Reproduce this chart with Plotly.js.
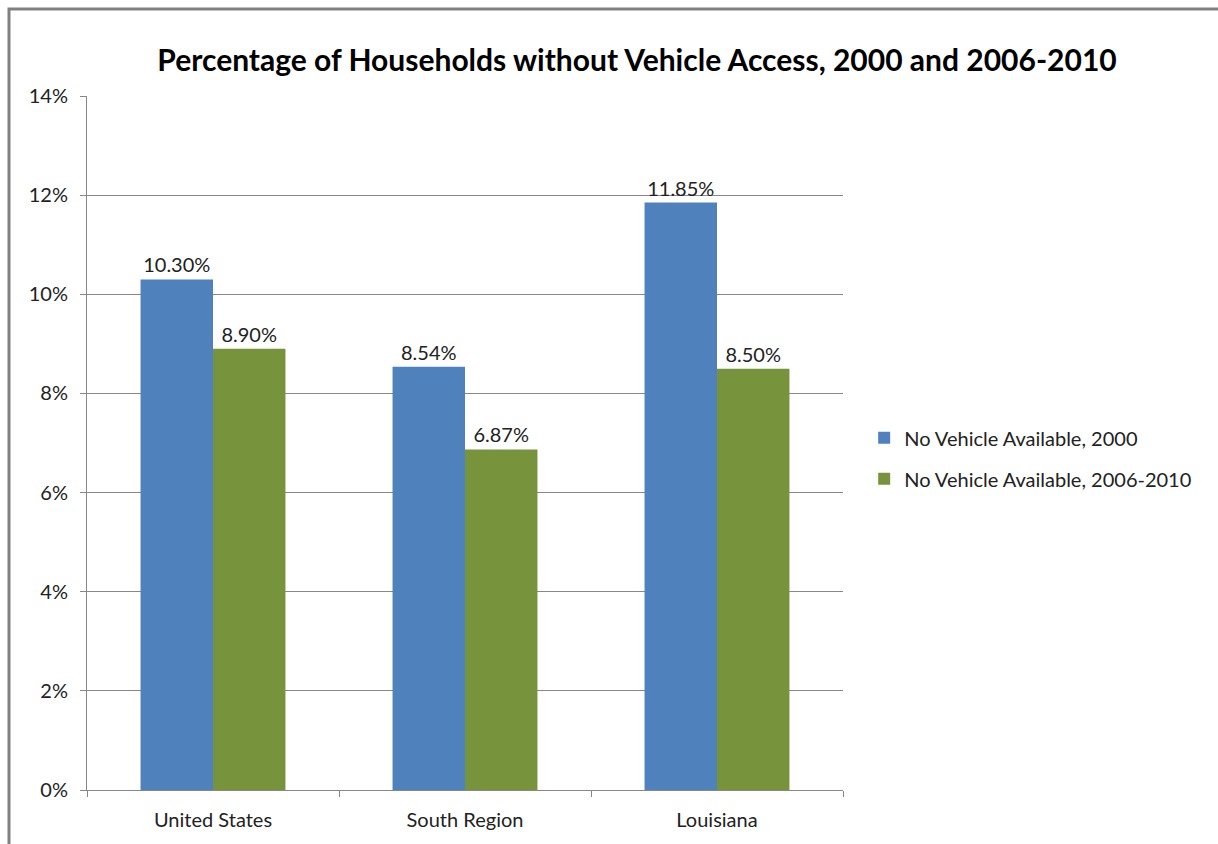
<!DOCTYPE html>
<html>
<head>
<meta charset="utf-8">
<script src="https://cdn.plot.ly/plotly-3.0.1.min.js"></script>
<style>html,body{margin:0;padding:0;background:#fff;}#chart{width:1218px;height:844px;}</style>
</head>
<body>
<div id="chart"></div>
<script>
const categories = ["United States", "South Region", "Louisiana"];
const series2000 = [10.30, 8.54, 11.85];
const series2006_2010 = [8.90, 6.87, 8.50];
const seriesNames = ["No Vehicle Available, 2000", "No Vehicle Available, 2006-2010"];
const yTickVals = [0, 2, 4, 6, 8, 10, 12, 14];
const yTickText = ["0%", "2%", "4%", "6%", "8%", "10%", "12%", "14%"];

const font = "Lato, Open Sans, sans-serif";
const fs = 20;
const traces = [
  {type: "bar", name: seriesNames[0], x: categories, y: series2000, legendgroup: "a",
   marker: {color: "#4F81BD"}, texttemplate: "%{y:.2f}%", textposition: "outside",
   textfont: {size: fs, color: "#222"}, cliponaxis: false},
  {type: "bar", name: seriesNames[1], x: categories, y: series2006_2010, legendgroup: "b",
   marker: {color: "#77933C"}, texttemplate: "%{y:.2f}%", textposition: "outside",
   textfont: {size: fs, color: "#222"}, cliponaxis: false}
];
const layout = {
  width: 1218, height: 844,
  margin: {l: 87, r: 375, t: 96, b: 54},
  paper_bgcolor: "#fff", plot_bgcolor: "#fff",
  font: {family: font, size: fs, color: "#222"},
  title: {text: "<b>Percentage of Households without Vehicle Access, 2000 and 2006-2010</b>",
          font: {size: 30, color: "#000"}, x: 0.523, xref: "container", xanchor: "center",
          y: 1 - 60/844, yref: "container", yanchor: "middle"},
  barmode: "group", bargap: 0.425, bargroupgap: 0,
  xaxis: {showline: true, linecolor: "#888", linewidth: 1, ticks: "outside", tickson: "boundaries",
          ticklen: 6, tickcolor: "#888", showgrid: false, tickfont: {size: fs}, ticklabelstandoff: 12},
  yaxis: {range: [0, 14], tickmode: "array", tickvals: yTickVals, ticktext: yTickText,
          showline: true, linecolor: "#888", ticklabelstandoff: 8,
          ticks: "outside", ticklen: 6, tickcolor: "#888", gridcolor: "#888", gridwidth: 1,
          zeroline: false, tickfont: {size: fs}},
  legend: {x: 1.028, xanchor: "left", y: 0.478, yanchor: "middle", font: {size: fs},
           traceorder: "grouped", tracegroupgap: 12, itemwidth: 30},
  shapes: [{type: "rect", xref: "paper", yref: "paper",
            x0: -78/756, x1: 1.6, y0: -0.2, y1: 1 + 87/694,
            line: {color: "#808080", width: 3}, fillcolor: "rgba(0,0,0,0)", layer: "above"}],
  showlegend: true
};
Plotly.newPlot("chart", traces, layout, {displayModeBar: false, staticPlot: true});
</script>
</body>
</html>
